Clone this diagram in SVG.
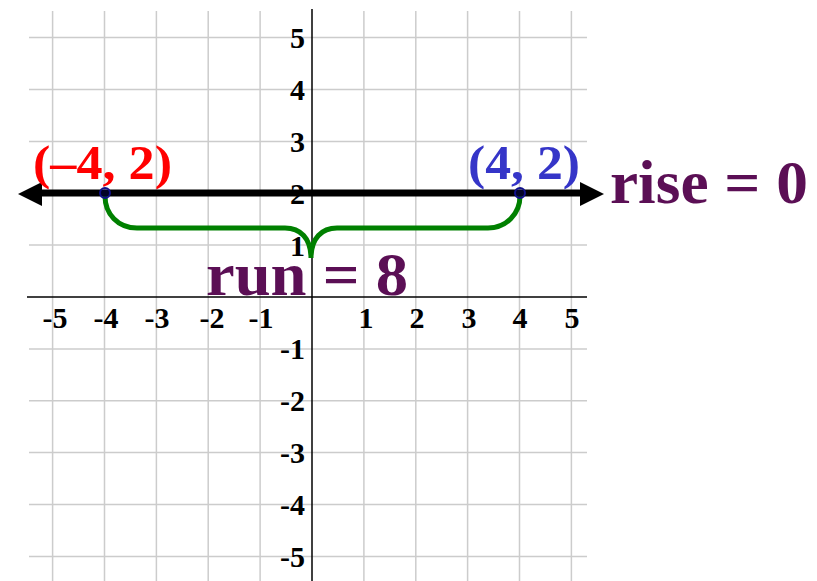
<svg xmlns="http://www.w3.org/2000/svg" width="817" height="581" viewBox="0 0 817 581">
<defs>
<style>
.grid line{stroke:#cccccc;stroke-width:1.5}
.axis{stroke:#000;stroke-width:1.5}
.lbl{font-family:"Liberation Serif","Times New Roman",serif;font-weight:bold;font-size:30px;fill:#000}
.big{font-family:"Liberation Serif","Times New Roman",serif;font-weight:bold;fill:#5b0f55}
.pt{font-family:"Liberation Serif","Times New Roman",serif;font-weight:bold;font-size:48px}
</style>
</defs>
<rect width="817" height="581" fill="#fff"/>
<g id="grid" class="grid">
<line x1="52.6" y1="11" x2="52.6" y2="581"/>
<line x1="104.5" y1="11" x2="104.5" y2="581"/>
<line x1="156.4" y1="11" x2="156.4" y2="581"/>
<line x1="208.2" y1="11" x2="208.2" y2="581"/>
<line x1="260.1" y1="11" x2="260.1" y2="581"/>
<line x1="363.9" y1="11" x2="363.9" y2="581"/>
<line x1="415.8" y1="11" x2="415.8" y2="581"/>
<line x1="467.6" y1="11" x2="467.6" y2="581"/>
<line x1="519.5" y1="11" x2="519.5" y2="581"/>
<line x1="571.4" y1="11" x2="571.4" y2="581"/>
<line x1="29" y1="37.6" x2="587" y2="37.6"/>
<line x1="29" y1="89.5" x2="587" y2="89.5"/>
<line x1="29" y1="141.4" x2="587" y2="141.4"/>
<line x1="29" y1="193.3" x2="587" y2="193.3"/>
<line x1="29" y1="245.1" x2="587" y2="245.1"/>
<line x1="29" y1="348.9" x2="587" y2="348.9"/>
<line x1="29" y1="400.8" x2="587" y2="400.8"/>
<line x1="29" y1="452.6" x2="587" y2="452.6"/>
<line x1="29" y1="504.5" x2="587" y2="504.5"/>
<line x1="29" y1="556.4" x2="587" y2="556.4"/>
</g>
<g id="axes">
<line class="axis" x1="27" y1="297" x2="587" y2="297"/>
<line class="axis" x1="312" y1="9" x2="312" y2="581"/>
</g>
<g id="xlabels" class="lbl" text-anchor="middle">
<text x="55" y="328">-5</text>
<text x="106" y="328">-4</text>
<text x="157" y="328">-3</text>
<text x="212" y="328">-2</text>
<text x="261" y="328">-1</text>
<text x="366" y="328">1</text>
<text x="417" y="328">2</text>
<text x="469" y="328">3</text>
<text x="520" y="328">4</text>
<text x="572" y="328">5</text>
</g>
<g id="ylabels" class="lbl" text-anchor="end">
<text x="305" y="48">5</text>
<text x="305" y="100">4</text>
<text x="305" y="152">3</text>
<text x="305" y="204">2</text>
<text x="305" y="256">1</text>
<text x="305" y="359">-1</text>
<text x="305" y="411">-2</text>
<text x="305" y="463">-3</text>
<text x="305" y="515">-4</text>
<text x="305" y="567">-5</text>
</g>
<g id="connectors">
<path id="brace" d="M105,196 C105,214 118,228 137,228 L285,228 C300,228 311,238 311,258 C311,238 322,228 337,228 L488,228 C506,228 520,214 520,196" fill="none" stroke="#008000" stroke-width="5"/>
<g id="line">
<line x1="38" y1="193" x2="584" y2="193" stroke="#000" stroke-width="7"/>
<polygon points="18,194 42,182 42,206" fill="#000"/>
<polygon points="604,194 580,182 580,206" fill="#000"/>
</g>
</g>
<g id="point-left"><circle cx="105" cy="193" r="5" fill="#0a0a80" fill-opacity="0.3" stroke="#10108a" stroke-width="2"/></g>
<g id="point-right"><circle cx="520" cy="193" r="5" fill="#0a0a80" fill-opacity="0.3" stroke="#10108a" stroke-width="2"/></g>
<g id="label-left"><text class="pt" x="33" y="179" fill="#ff0000" textLength="139" lengthAdjust="spacingAndGlyphs">(–4, 2)</text></g>
<g id="label-right"><text class="pt" x="468" y="179" fill="#3535c8" textLength="112" lengthAdjust="spacingAndGlyphs">(4, 2)</text></g>
<g id="rise"><text class="big" x="610" y="203" font-size="62" textLength="198" lengthAdjust="spacingAndGlyphs">rise = 0</text></g>
<g id="run"><text class="big" x="206" y="295" font-size="62" textLength="202" lengthAdjust="spacingAndGlyphs">run = 8</text></g>
</svg>
